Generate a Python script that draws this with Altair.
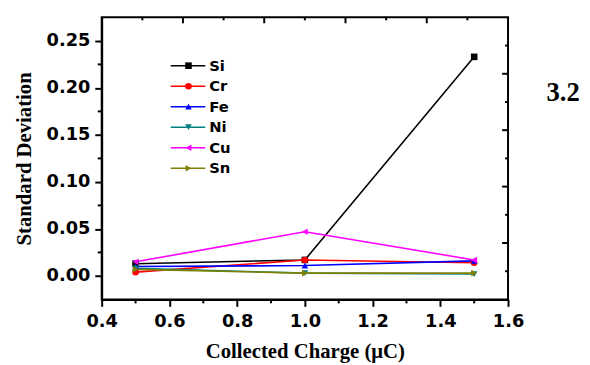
import altair as alt
import pandas as pd

# ---- data ----
charge = [0.5, 1.0, 1.5]
si = [0.013, 0.017, 0.233]
cr = [0.004, 0.017, 0.014]
fe = [0.010, 0.011, 0.016]
ni = [0.008, 0.003, 0.002]
cu = [0.015, 0.047, 0.017]
sn = [0.007, 0.003, 0.003]

names = ["Si", "Cr", "Fe", "Ni", "Cu", "Sn"]
colors = ["#000000", "#ff0000", "#0000ff", "#008080", "#ff00ff", "#808000"]
shapes = ["square", "circle", "triangle-up", "triangle-down", "triangle-left", "triangle-right"]

x_major = [0.4, 0.6, 0.8, 1.0, 1.2, 1.4, 1.6]
x_minor = [0.5, 0.7, 0.9, 1.1, 1.3, 1.5]
y_major = [0.0, 0.05, 0.10, 0.15, 0.20, 0.25]
y_minor = [0.025, 0.075, 0.125, 0.175, 0.225]
top_major = [0.64, 0.88, 1.12, 1.36]
top_minor = [0.52, 0.76, 1.00, 1.24, 1.48]
right_major = [0.215, 0.155, 0.095, 0.035]
right_minor = [0.245, 0.185, 0.125, 0.065, 0.005]

series = [si, cr, fe, ni, cu, sn]
rows = []
for n, vals in zip(names, series):
    for c, v in zip(charge, vals):
        rows.append({"element": n, "charge": c, "sd": v})
df = pd.DataFrame(rows)

XD = [0.4, 1.6]
YD = [-0.025, 0.275]

xs = alt.Scale(domain=XD, nice=False, zero=False)
ys = alt.Scale(domain=YD, nice=False, zero=False)
cs = alt.Scale(domain=names, range=colors)
ss = alt.Scale(domain=names, range=shapes)

x_axis = alt.Axis(values=x_major, format=".1f", title="Collected Charge (μC)",
                  titlePadding=11, labelPadding=6, labelFlush=False, titleFontSize=21)
y_axis = alt.Axis(values=y_major, format=".2f", title="Standard Deviation",
                  titlePadding=12, labelPadding=5, labelFlush=False, titleFontSize=21)

lines = alt.Chart(df).mark_line(strokeWidth=1.6).encode(
    x=alt.X("charge:Q", scale=xs, axis=x_axis),
    y=alt.Y("sd:Q", scale=ys, axis=y_axis),
    color=alt.Color("element:N", scale=cs, legend=None),
    order=alt.Order("charge:Q"),
)
points = alt.Chart(df).mark_point(filled=True, size=45, opacity=1).encode(
    x=alt.X("charge:Q", scale=xs, axis=x_axis),
    y=alt.Y("sd:Q", scale=ys, axis=None),
    color=alt.Color("element:N", scale=cs, legend=None),
    shape=alt.Shape("element:N", scale=ss, legend=None),
)

# minor / frame ticks
def xticks(vals, y1, y2):
    d = pd.DataFrame({"v": vals})
    return alt.Chart(d).mark_rule(color="black", strokeWidth=2).encode(
        x=alt.X("v:Q", scale=xs, axis=x_axis), y=alt.value(y1), y2=alt.value(y2))

def yticks(vals, x1, x2):
    d = pd.DataFrame({"v": vals})
    return alt.Chart(d).mark_rule(color="black", strokeWidth=2).encode(
        y=alt.Y("v:Q", scale=ys, axis=None), x=alt.value(x1), x2=alt.value(x2))

W, H = 412, 286
tick_layers = [
    xticks(x_minor, H, H + 4),
    yticks(y_minor, -4, 0),
    xticks(top_major, 0, 6),
    xticks(top_minor, 0, 3),
    yticks(right_major, W, W - 6),
    yticks(right_minor, W, W - 3),
]

# legend
leg = pd.DataFrame({"element": names})
leg_y = alt.Y("element:N", scale=alt.Scale(type="point", domain=names, range=[49, 153], padding=0),
              axis=None)
leg_line = alt.Chart(leg).mark_rule(strokeWidth=1.6).encode(
    x=alt.value(70), x2=alt.value(105), y=leg_y,
    color=alt.Color("element:N", scale=cs, legend=None))
leg_pt = alt.Chart(leg).mark_point(filled=True, size=45, opacity=1).encode(
    x=alt.value(88), y=leg_y,
    color=alt.Color("element:N", scale=cs, legend=None),
    shape=alt.Shape("element:N", scale=ss, legend=None))
leg_txt = alt.Chart(leg).mark_text(align="left", baseline="middle", font="DejaVu Sans",
                                   fontWeight="bold", fontSize=15, color="black").encode(
    x=alt.value(109), y=leg_y, text="element:N")

label = alt.Chart(pd.DataFrame({"t": ["3.2"]})).mark_text(
    align="left", baseline="alphabetic", font="Liberation Serif", fontWeight="bold",
    fontSize=27, color="black").encode(x=alt.value(451), y=alt.value(85), text="t:N")

chart = alt.layer(lines, points, *tick_layers, leg_line, leg_pt, leg_txt, label).resolve_scale(
    y="independent"
).properties(
    width=W, height=H,
    background="white",
    autosize=alt.AutoSizeParams(type="none"),
    padding={"left": 95, "top": 7, "right": 75, "bottom": 64},
).configure_view(
    stroke="black", strokeWidth=2
).configure_axis(
    domainColor="black", domainWidth=2, tickColor="black", tickWidth=2, tickSize=7,
    labelFont="DejaVu Sans", labelFontWeight="bold", labelFontSize=18, labelColor="black",
    titleFont="Liberation Serif", titleFontWeight="bold", titleColor="black",
    grid=False,
)

chart.save("out.html", embed_options={"renderer": "svg", "actions": False})
